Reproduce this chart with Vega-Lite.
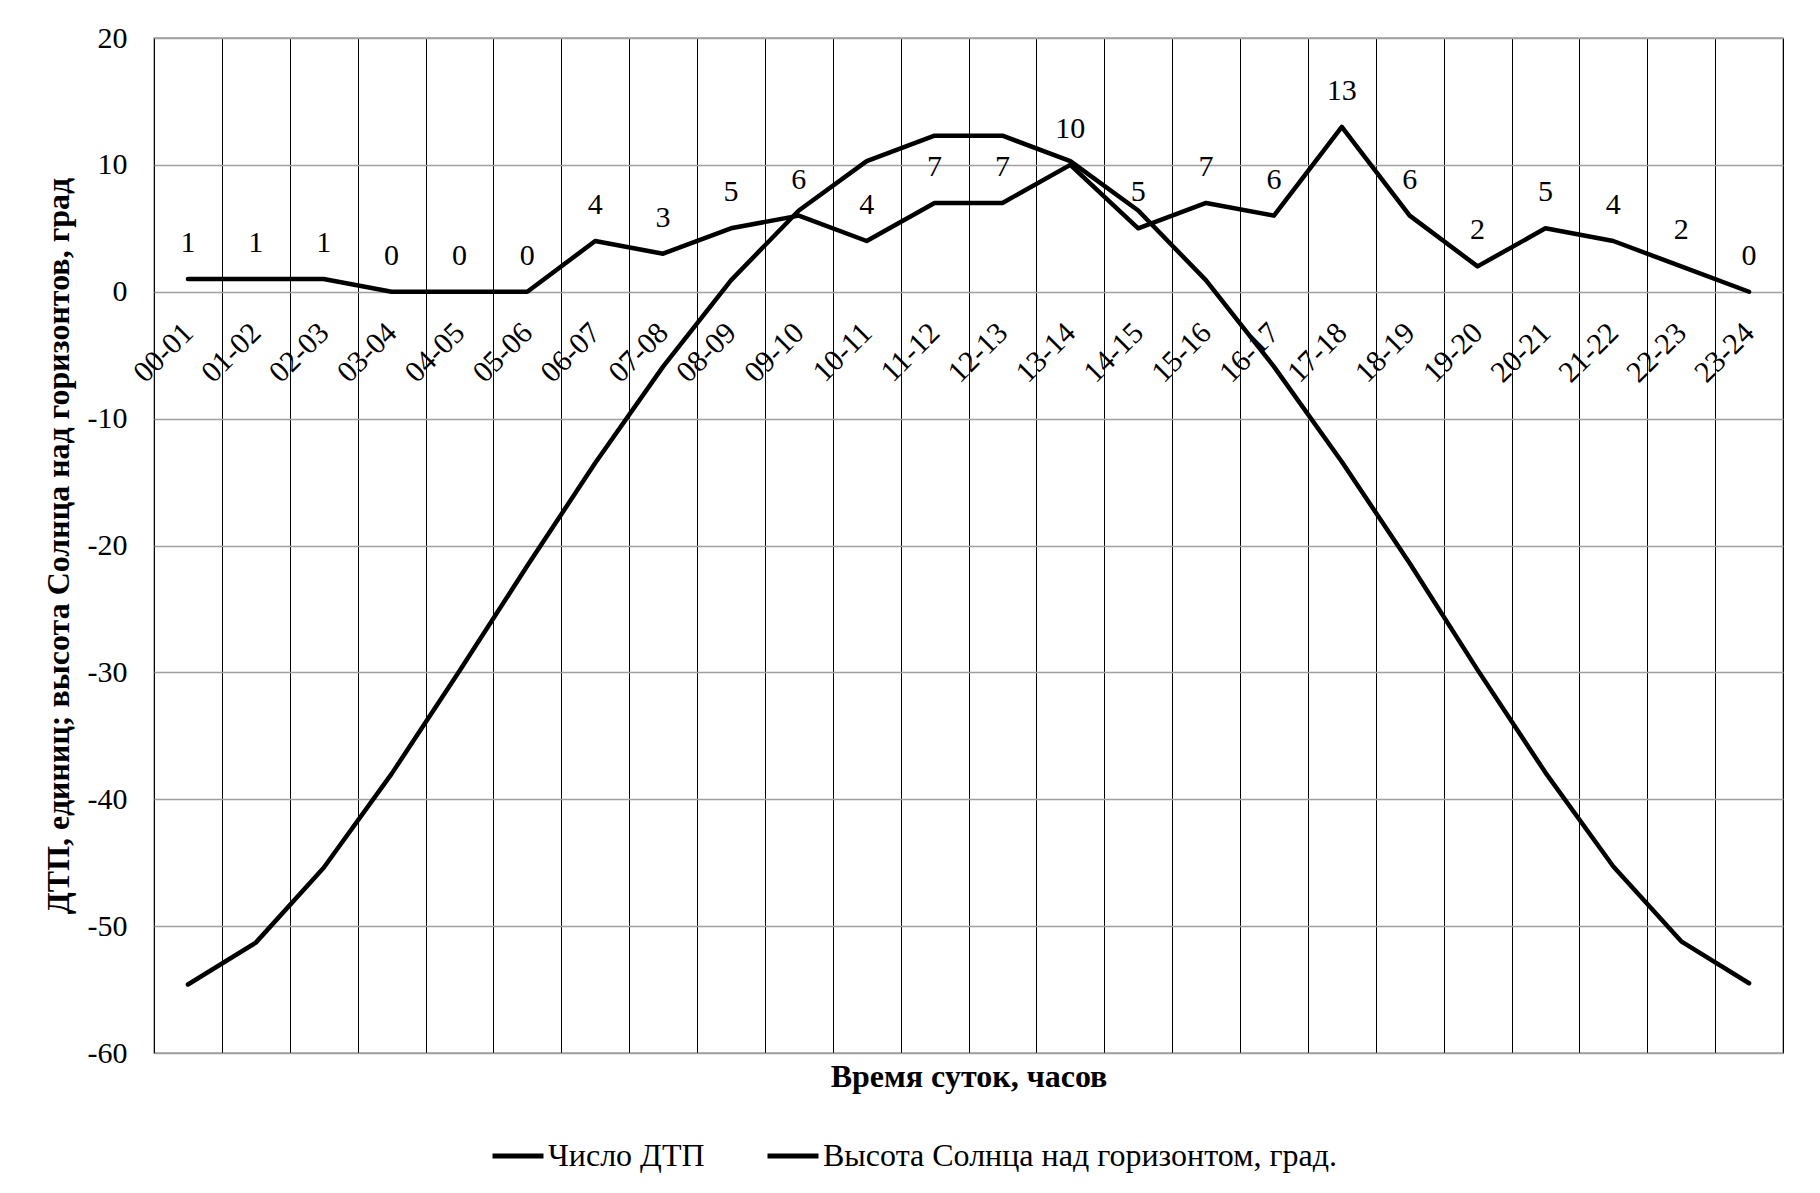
{
  "$schema": "https://vega.github.io/schema/vega-lite/v6.json",
  "width": 1629,
  "height": 1015,
  "autosize": {"type": "none"},
  "padding": {"left": 154, "top": 38, "right": 37, "bottom": 140},
  "background": "white",
  "config": {
    "font": "Liberation Serif",
    "view": {"stroke": "#a0a0a0", "strokeWidth": 1.5},
    "axis": {"labelFont": "Liberation Serif", "titleFont": "Liberation Serif", "labelColor": "black", "titleColor": "black"},
    "legend": {"labelFont": "Liberation Serif", "labelColor": "black"},
    "text": {"font": "Liberation Serif"}
  },
  "data": {
    "values": [
      {"hour": "00-01", "series": "Число ДТП", "value": 1},
      {"hour": "01-02", "series": "Число ДТП", "value": 1},
      {"hour": "02-03", "series": "Число ДТП", "value": 1},
      {"hour": "03-04", "series": "Число ДТП", "value": 0},
      {"hour": "04-05", "series": "Число ДТП", "value": 0},
      {"hour": "05-06", "series": "Число ДТП", "value": 0},
      {"hour": "06-07", "series": "Число ДТП", "value": 4},
      {"hour": "07-08", "series": "Число ДТП", "value": 3},
      {"hour": "08-09", "series": "Число ДТП", "value": 5},
      {"hour": "09-10", "series": "Число ДТП", "value": 6},
      {"hour": "10-11", "series": "Число ДТП", "value": 4},
      {"hour": "11-12", "series": "Число ДТП", "value": 7},
      {"hour": "12-13", "series": "Число ДТП", "value": 7},
      {"hour": "13-14", "series": "Число ДТП", "value": 10},
      {"hour": "14-15", "series": "Число ДТП", "value": 5},
      {"hour": "15-16", "series": "Число ДТП", "value": 7},
      {"hour": "16-17", "series": "Число ДТП", "value": 6},
      {"hour": "17-18", "series": "Число ДТП", "value": 13},
      {"hour": "18-19", "series": "Число ДТП", "value": 6},
      {"hour": "19-20", "series": "Число ДТП", "value": 2},
      {"hour": "20-21", "series": "Число ДТП", "value": 5},
      {"hour": "21-22", "series": "Число ДТП", "value": 4},
      {"hour": "22-23", "series": "Число ДТП", "value": 2},
      {"hour": "23-24", "series": "Число ДТП", "value": 0},
      {"hour": "00-01", "series": "Высота Солнца над горизонтом, град.", "value": -54.6},
      {"hour": "01-02", "series": "Высота Солнца над горизонтом, град.", "value": -51.3},
      {"hour": "02-03", "series": "Высота Солнца над горизонтом, град.", "value": -45.4},
      {"hour": "03-04", "series": "Высота Солнца над горизонтом, град.", "value": -38.0},
      {"hour": "04-05", "series": "Высота Солнца над горизонтом, град.", "value": -29.9},
      {"hour": "05-06", "series": "Высота Солнца над горизонтом, град.", "value": -21.6},
      {"hour": "06-07", "series": "Высота Солнца над горизонтом, град.", "value": -13.5},
      {"hour": "07-08", "series": "Высота Солнца над горизонтом, град.", "value": -5.9},
      {"hour": "08-09", "series": "Высота Солнца над горизонтом, град.", "value": 0.9},
      {"hour": "09-10", "series": "Высота Солнца над горизонтом, град.", "value": 6.4},
      {"hour": "10-11", "series": "Высота Солнца над горизонтом, град.", "value": 10.3},
      {"hour": "11-12", "series": "Высота Солнца над горизонтом, град.", "value": 12.3},
      {"hour": "12-13", "series": "Высота Солнца над горизонтом, град.", "value": 12.3},
      {"hour": "13-14", "series": "Высота Солнца над горизонтом, град.", "value": 10.3},
      {"hour": "14-15", "series": "Высота Солнца над горизонтом, град.", "value": 6.4},
      {"hour": "15-16", "series": "Высота Солнца над горизонтом, град.", "value": 0.9},
      {"hour": "16-17", "series": "Высота Солнца над горизонтом, град.", "value": -5.9},
      {"hour": "17-18", "series": "Высота Солнца над горизонтом, град.", "value": -13.4},
      {"hour": "18-19", "series": "Высота Солнца над горизонтом, град.", "value": -21.4},
      {"hour": "19-20", "series": "Высота Солнца над горизонтом, град.", "value": -29.8},
      {"hour": "20-21", "series": "Высота Солнца над горизонтом, град.", "value": -37.9},
      {"hour": "21-22", "series": "Высота Солнца над горизонтом, град.", "value": -45.3},
      {"hour": "22-23", "series": "Высота Солнца над горизонтом, град.", "value": -51.2},
      {"hour": "23-24", "series": "Высота Солнца над горизонтом, град.", "value": -54.5}
    ]
  },
  "encoding": {
    "x": {
      "field": "hour",
      "type": "ordinal",
      "sort": null,
      "scale": {"type": "band", "paddingInner": 0, "paddingOuter": 0},
      "axis": {
        "title": "Время суток, часов",
        "titleFont": "Liberation Serif",
        "titleFontWeight": "bold",
        "titleFontSize": 32,
        "titleY": 785,
        "titleBaseline": "middle",
        "labelFont": "Liberation Serif",
        "labelAngle": -45,
        "labelFontSize": 30,
        "labelAlign": "right",
        "labelBaseline": "middle",
        "labelPadding": 36,
        "labelOverlap": false,
        "labelBound": false,
        "labelFlush": false,
        "ticks": false,
        "domain": false,
        "tickBand": "extent",
        "grid": true,
        "gridColor": "black",
        "gridWidth": 1,
        "offset": -761.25
      }
    },
    "y": {
      "field": "value",
      "type": "quantitative",
      "scale": {"domain": [-60, 20], "nice": false, "zero": false},
      "axis": {
        "title": "ДТП, единиц; высота Солнца над горизонтов, град",
        "titleFont": "Liberation Serif",
        "titleFontWeight": "bold",
        "titleFontSize": 32,
        "titleX": -96,
        "titleY": 507.5,
        "titleBaseline": "middle",
        "values": [-60, -50, -40, -30, -20, -10, 0, 10, 20],
        "labelExpr": "'' + datum.value",
        "labelFont": "Liberation Serif",
        "labelFontSize": 30,
        "labelPadding": 27,
        "ticks": false,
        "domain": false,
        "grid": true,
        "gridColor": "#a0a0a0",
        "gridWidth": 1.5
      }
    }
  },
  "layer": [
    {
      "mark": {"type": "line", "strokeWidth": 4.5, "strokeJoin": "round", "strokeCap": "round"},
      "encoding": {
        "color": {
          "field": "series",
          "type": "nominal",
          "scale": {"domain": ["Число ДТП", "Высота Солнца над горизонтом, град."], "range": ["black", "black"]},
          "legend": {
            "orient": "none",
            "legendX": 336,
            "legendY": 1090,
            "direction": "horizontal",
            "title": null,
            "symbolType": "stroke",
            "symbolStrokeWidth": 5,
            "symbolSize": 2601,
            "labelFont": "Liberation Serif",
            "labelFontSize": 32,
            "labelOffset": 2,
            "columnPadding": 52,
            "labelLimit": 1000
          }
        }
      }
    },
    {
      "transform": [{"filter": "datum.series == 'Число ДТП'"}],
      "mark": {"type": "text", "dy": -36, "fontSize": 30, "font": "Liberation Serif", "baseline": "middle", "align": "center", "color": "black"},
      "encoding": {
        "text": {"field": "value", "type": "quantitative"}
      }
    }
  ]
}
